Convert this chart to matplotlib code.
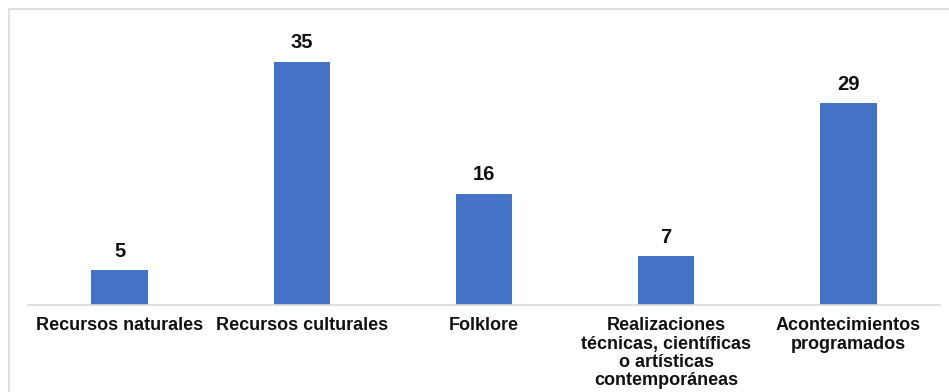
import matplotlib.pyplot as plt
from matplotlib.patches import Rectangle

categorias = ["Recursos naturales", "Recursos culturales", "Folklore",
              "Realizaciones\ntécnicas, científicas\no artísticas\ncontemporáneas",
              "Acontecimientos\nprogramados"]
valores = [5, 35, 16, 7, 29]

plt.rcParams['font.family'] = ['Liberation Sans', 'DejaVu Sans']

fig = plt.figure(figsize=(9.49, 3.92), dpi=100)
ax = fig.add_axes([0.030, 0.222, 0.960, 0.709])

x = range(len(categorias))
barras = ax.bar(x, valores, width=0.31, color='#4472C4')

for b, v in zip(barras, valores):
    ax.annotate(str(v), (b.get_x() + b.get_width() / 2, v), xytext=(0, 7),
                textcoords='offset points', ha='center', va='bottom',
                fontsize=14.5, fontweight='bold', color='#111111')

ax.set_xlim(-0.5, len(categorias) - 0.5)
ax.set_ylim(0, 40)
ax.set_xticks(list(x))
ax.set_xticklabels(categorias, fontsize=13, fontweight='bold', linespacing=1.09,
                   color='#111111', va='top')
ax.tick_params(axis='x', length=0, pad=9)
ax.set_yticks([])
for lado in ['top', 'left', 'right']:
    ax.spines[lado].set_visible(False)
ax.spines['bottom'].set_color('#d9d9d9')
ax.spines['bottom'].set_linewidth(1.2)

# marco exterior del gráfico
fig.patches.append(Rectangle((9 / 949, -0.1), 1.0, 1 - 9 / 392 + 0.1,
                             transform=fig.transFigure, fill=False,
                             edgecolor='#d9d9d9', linewidth=1.2))

fig.savefig('out.png', dpi=100)
